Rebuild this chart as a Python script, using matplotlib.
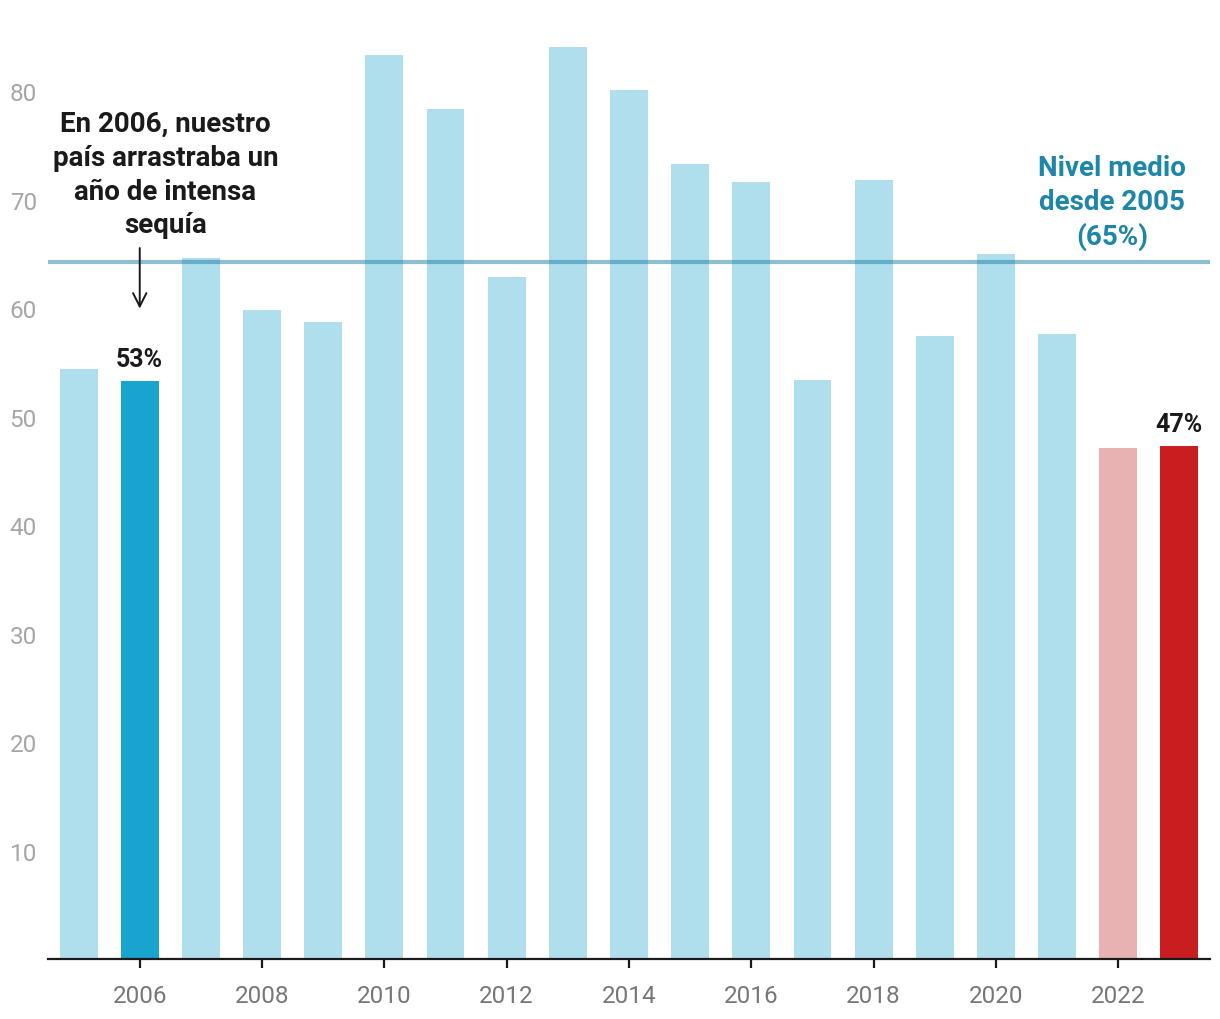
import matplotlib
matplotlib.use("Agg")
import matplotlib.pyplot as plt

plt.rcParams['font.family'] = ['Roboto', 'DejaVu Sans']

years = list(range(2005, 2024))
values = [54.4, 53.3, 64.6, 59.8, 58.7, 83.3, 78.4, 62.9, 84.1, 80.1,
          73.3, 71.6, 53.4, 71.8, 57.4, 65.0, 57.6, 47.1, 47.3]
mean_level = 64.3
xtick_years = [2006, 2008, 2010, 2012, 2014, 2016, 2018, 2020, 2022]
ytick_vals = [10, 20, 30, 40, 50, 60, 70, 80]

light = '#afdeed'
colors = []
for y in years:
    if y == 2006:
        colors.append('#19a3cf')
    elif y == 2022:
        colors.append('#e9b2b2')
    elif y == 2023:
        colors.append('#c91e1f')
    else:
        colors.append(light)

fig = plt.figure(figsize=(12.2, 10.2), dpi=100)
ax = fig.add_axes([48/1220, 60/1020, (1210-48)/1220, (960-38)/1020])

ax.bar(years, values, width=0.62, color=colors, zorder=2)
ax.axhline(mean_level, color='#1a80a6', alpha=0.5, lw=3, zorder=3)

ax.set_xlim(2004.5, 2023.5)
ax.set_ylim(0, 85)

for s in ['top', 'right', 'left']:
    ax.spines[s].set_visible(False)
ax.spines['bottom'].set_color('#1a1a1a')
ax.spines['bottom'].set_linewidth(1.6)

ax.set_xticks(xtick_years)
ax.set_xticklabels([str(y) for y in xtick_years])
ax.tick_params(axis='x', length=6.5, width=1.6, color='#1a1a1a', labelsize=17.5,
               labelcolor='#777777', pad=11.5)
ax.set_yticks(ytick_vals)
ax.set_yticklabels([str(v) for v in ytick_vals])
ax.tick_params(axis='y', length=0, labelsize=17.5, labelcolor='#a6a6a6', pad=8)

# value labels
ax.text(2006, values[1] + 0.95, '53%', ha='center', va='bottom', fontsize=18,
        fontweight='bold', color='#1a1a1a', zorder=5)
ax.text(2023, values[-1] + 0.95, '47%', ha='center', va='bottom', fontsize=18,
        fontweight='bold', color='#1a1a1a', zorder=5)

# annotation
ax.text(2006.42, 72.35, 'En 2006, nuestro\npaís arrastraba un\naño de intensa\nsequía',
        ha='center', va='center', fontsize=20, fontweight='bold',
        color='#1a1a1a', linespacing=1.32, zorder=5)
ax.annotate('', xy=(2006, 59.7), xytext=(2006, 65.8),
            arrowprops=dict(arrowstyle='->', color='#1a1a1a', lw=1.4,
                            mutation_scale=24), zorder=5)

ax.text(2021.9, 69.75, 'Nivel medio\ndesde 2005\n(65%)', ha='center', va='center',
        fontsize=20, fontweight='bold', color='#1e86a6', linespacing=1.32, zorder=5)

fig.savefig('out.png', dpi=100)
